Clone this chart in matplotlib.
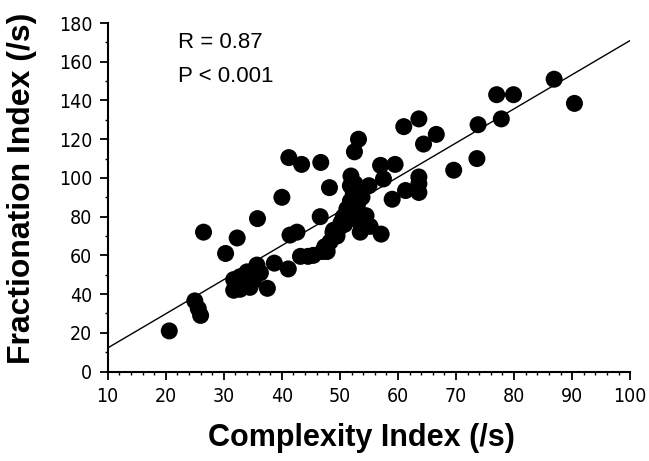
import matplotlib
matplotlib.use("Agg")
import matplotlib.pyplot as plt
from matplotlib.ticker import MultipleLocator
from matplotlib import font_manager

complexity = [
    20.6, 25.0, 25.6, 26.0, 26.5, 30.3, 32.3, 35.8, 40.0, 41.2, 43.4, 46.7,
    48.2, 53.2, 52.5, 51.9, 57.0, 59.5, 55.0, 57.5, 59.0, 61.3, 63.6, 63.6,
    63.6, 61.0, 63.6, 64.4, 66.6, 69.6, 73.6, 73.8, 77.0, 77.8, 79.9, 86.9,
    90.4,
    31.7, 31.7, 32.8, 32.8, 34.0, 34.5, 35.7, 36.3, 37.5, 38.7, 35.1, 43.2,
    41.1, 41.4, 42.6, 44.5, 45.4, 46.6, 47.0, 47.8, 48.3, 48.9, 49.5, 50.2,
    50.6, 51.2, 51.8, 52.1, 52.3, 52.9, 53.5, 54.1, 55.2, 57.1, 51.8, 52.0,
    53.0, 54.5, 50.8, 49.8, 48.8, 47.4, 52.6, 53.8,
]
fractionation = [
    21.0, 36.5, 32.5, 29.0, 72.0, 61.0, 69.0, 79.0, 90.0, 110.5, 107.0, 108.0,
    95.0, 120.0, 113.5, 101.0, 106.5, 107.0, 96.0, 99.5, 89.0, 93.5, 92.5, 97.0,
    100.5, 126.5, 130.5, 117.5, 122.5, 104.0, 110.0, 127.5, 143.0, 130.5, 143.0, 151.0,
    138.5,
    47.5, 42.0, 42.5, 49.0, 51.5, 43.5, 55.0, 51.0, 43.0, 56.0, 47.0, 59.5,
    53.0, 70.5, 72.0, 59.5, 60.0, 80.0, 62.0, 62.0, 67.0, 73.0, 70.0, 77.0,
    80.0, 84.0, 88.0, 83.5, 92.0, 78.5, 72.0, 76.5, 75.0, 71.0, 96.0, 87.0,
    86.0, 80.5, 76.0, 74.0, 72.0, 64.5, 97.0, 90.0,
]

fit_intercept_at_10 = 12.2
fit_value_at_100 = 171.0
fit_x = [10, 100]

stats_lines = ["R = 0.87", "P < 0.001"]
x_label = "Complexity Index (/s)"
y_label = "Fractionation Index (/s)"

# pick a condensed face for tick labels if one is installed
tick_fp = None
for f in font_manager.fontManager.ttflist:
    fn = f.fname.lower()
    if ("narrow" in fn or "condensed" in fn) and "bold" not in fn and "oblique" not in fn \
            and "italic" not in fn and ("liberation" in fn or "dejavusans" in fn.replace("-", "")):
        tick_fp = font_manager.FontProperties(fname=f.fname)
        break
if tick_fp is None:
    tick_fp = font_manager.FontProperties(family="Liberation Sans")

fig = plt.figure(figsize=(6.49, 4.61), dpi=100)
ax = fig.add_axes([0.166, 0.194, 0.805, 0.756])

ax.scatter(complexity, fractionation, s=150, color="black", edgecolors="none", zorder=3)

slope = (fit_value_at_100 - fit_intercept_at_10) / (fit_x[1] - fit_x[0])
fit_y = [fit_intercept_at_10 + slope * (xv - fit_x[0]) for xv in fit_x]
ax.plot(fit_x, fit_y, color="black", linewidth=1.0, zorder=2)

ax.set_xlim(10, 100)
ax.set_ylim(0, 180)
ax.xaxis.set_major_locator(MultipleLocator(10))
ax.xaxis.set_minor_locator(MultipleLocator(2))
ax.yaxis.set_major_locator(MultipleLocator(20))
ax.yaxis.set_minor_locator(MultipleLocator(10))

for s in ["top", "right"]:
    ax.spines[s].set_visible(False)
for s in ["left", "bottom"]:
    ax.spines[s].set_linewidth(1.5)

ax.tick_params(which="major", direction="out", length=6, width=1.3, pad=5)
ax.tick_params(which="minor", direction="out", length=2.5, width=1.0)
for lab in ax.get_xticklabels() + ax.get_yticklabels():
    lab.set_fontproperties(tick_fp)
    lab.set_fontsize(14)

ax.set_xlabel(x_label, fontsize=22, fontweight="bold", family="Liberation Sans")
ax.set_ylabel(y_label, fontsize=23, fontweight="bold", family="Liberation Sans")
ax.xaxis.set_label_coords(0.485, -0.19)
ax.xaxis.label.set_va("center")
ax.yaxis.set_label_coords(-0.164, 0.525)
ax.yaxis.label.set_va("center")

ax.text(0.135, 0.975, stats_lines[0], transform=ax.transAxes, fontsize=16,
        family="Liberation Sans", va="top", ha="left")
ax.text(0.135, 0.878, stats_lines[1], transform=ax.transAxes, fontsize=16,
        family="Liberation Sans", va="top", ha="left")

fig.savefig("out.png", dpi=100)
